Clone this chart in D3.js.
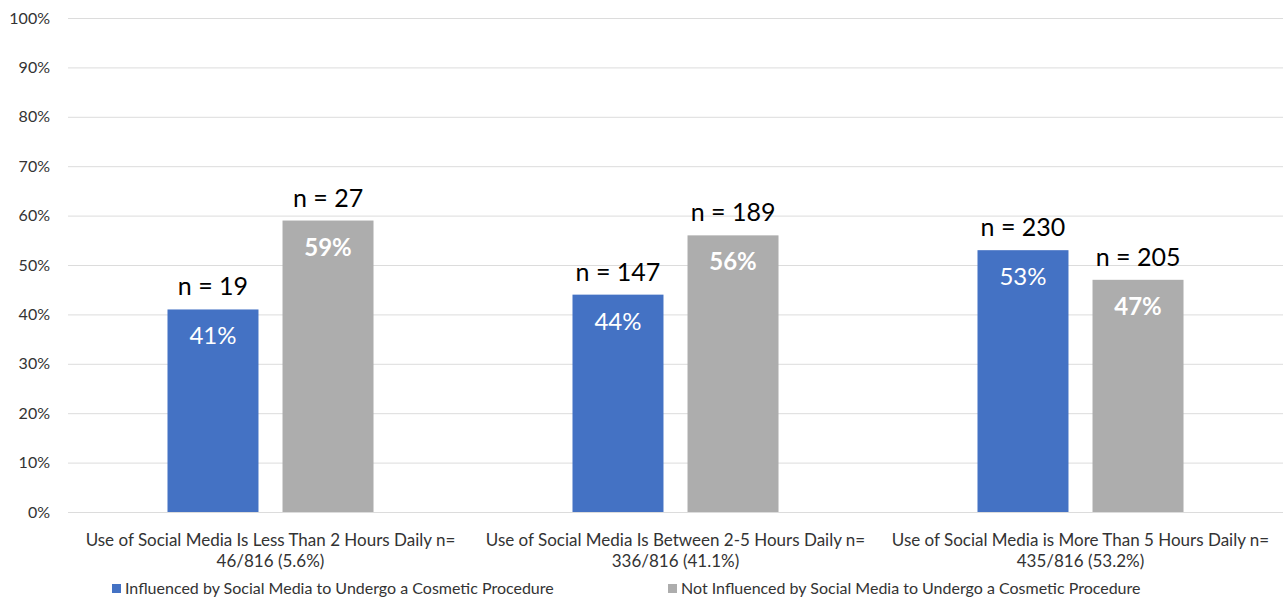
<!DOCTYPE html>
<html>
<head>
<meta charset="utf-8">
<script src="https://cdn.jsdelivr.net/npm/d3@7"></script>
<style>
  body { margin: 0; background: #fff; }
  svg { display: block; font-family: Lato, "Open Sans", sans-serif; }
</style>
</head>
<body>
<svg id="chart" width="1286" height="606"></svg>
<script>
// Categories (two-line labels)
const categories = [
  ["Use of Social Media Is Less Than 2 Hours Daily n=", "46/816 (5.6%)"],
  ["Use of Social Media Is Between 2-5 Hours Daily n=", "336/816 (41.1%)"],
  ["Use of Social Media is More Than 5 Hours Daily n=", "435/816 (53.2%)"]
];
const seriesNames = [
  "Influenced by Social Media to Undergo a Cosmetic Procedure",
  "Not Influenced by Social Media to Undergo a Cosmetic Procedure"
];
const influencedPct = [41, 44, 53];
const notInfluencedPct = [59, 56, 47];
const influencedN = [19, 147, 230];
const notInfluencedN = [27, 189, 205];
const yTicks = [0, 10, 20, 30, 40, 50, 60, 70, 80, 90, 100];
const colors = ["#4472C4", "#ADADAD"];

const svg = d3.select("#chart");
const margin = { left: 68, right: 3, top: 18, bottom: 94 };
const W = 1286, H = 606;

const x = d3.scaleBand().domain(d3.range(categories.length))
  .range([margin.left, W - margin.right]).paddingInner(0).paddingOuter(0);
const xs = d3.scaleBand().domain([0, 1]).range([0, x.bandwidth()])
  .paddingInner(0.209).paddingOuter(0.865);
const y = d3.scaleLinear().domain([0, 100]).range([H - margin.bottom, margin.top]);

// Gridlines and y labels
const yAxis = d3.axisLeft(y).tickValues(yTicks).tickSize(-(W - margin.right - margin.left))
  .tickFormat(d => d + "%").tickPadding(18);
const gy = svg.append("g").attr("transform", `translate(${margin.left},0)`).call(yAxis);
gy.select(".domain").remove();
gy.selectAll(".tick line").attr("stroke", "#DCDCDC").attr("stroke-width", 1);
gy.selectAll(".tick text").attr("fill", "#333").style("font-size", "16px")
  .style("font-family", "Lato, sans-serif");

const rows = categories.map((c, i) => [
  { s: 0, v: influencedPct[i], n: influencedN[i], i },
  { s: 1, v: notInfluencedPct[i], n: notInfluencedN[i], i }
]);

const groups = svg.append("g").selectAll("g").data(rows).join("g")
  .attr("transform", (d, i) => `translate(${x(i)},0)`);

groups.selectAll("rect").data(d => d).join("rect")
  .attr("x", d => xs(d.s)).attr("width", xs.bandwidth())
  .attr("y", d => y(d.v)).attr("height", d => y(0) - y(d.v))
  .attr("fill", d => colors[d.s]);

groups.selectAll("text.pct").data(d => d).join("text").attr("class", "pct")
  .attr("x", d => xs(d.s) + xs.bandwidth() / 2).attr("y", d => y(d.v) + 35)
  .attr("text-anchor", "middle").attr("fill", "#fff")
  .style("font-size", "24px").style("font-weight", d => d.s === 1 ? "bold" : "normal")
  .text(d => d.v + "%");

groups.selectAll("text.n").data(d => d).join("text").attr("class", "n")
  .attr("x", d => xs(d.s) + xs.bandwidth() / 2).attr("y", d => y(d.v) - 14)
  .attr("text-anchor", "middle").attr("fill", "#000")
  .style("font-size", "25px")
  .text(d => "n = " + d.n);

// Category labels
const cat = svg.append("g").selectAll("text").data(categories).join("text")
  .attr("text-anchor", "middle").attr("fill", "#333").style("font-size", "17px")
  .attr("transform", (d, i) => `translate(${x(i) + x.bandwidth() / 2},${y(0) + 34})`);
cat.selectAll("tspan").data(d => d).join("tspan")
  .attr("x", 0).attr("dy", (d, j) => j === 0 ? 0 : 21).text(d => d);

// Legend
const legendX = [112, 668];
const lg = svg.append("g").selectAll("g").data(seriesNames).join("g")
  .attr("transform", (d, i) => `translate(${legendX[i]},594)`);
lg.append("rect").attr("x", 0).attr("y", -10).attr("width", 9).attr("height", 9)
  .attr("fill", (d, i) => colors[i]);
lg.append("text").attr("x", 13).attr("y", 0).attr("fill", "#333")
  .style("font-size", "16px").text(d => d);
</script>
</body>
</html>
